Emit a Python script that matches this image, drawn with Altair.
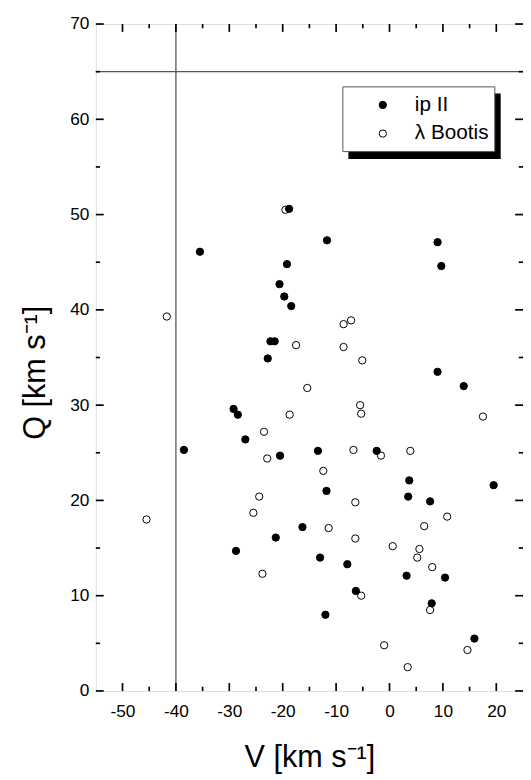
import altair as alt
import pandas as pd

groups = ["ip II", "λ Bootis"]

ip_v = [-18.8, -35.5, -11.7, 9.0, -19.2, -20.6, -19.7, -18.4, -22.3, -21.5, -22.8, -29.2,
        -28.4, -27.0, -38.5, -20.5, 9.7, 9.0, 13.9, -13.4, -2.4, 3.7, 19.5, -11.8, 3.5,
        7.6, -16.3, -13.0, -7.9, 3.2, 10.4, -6.3, 7.9, -12.0, 15.9, -21.3, -28.75]
ip_q = [50.6, 46.1, 47.3, 47.1, 44.8, 42.7, 41.4, 40.4, 36.7, 36.7, 34.9, 29.6,
        29.0, 26.4, 25.3, 24.7, 44.6, 33.5, 32.0, 25.2, 25.2, 22.1, 21.6, 21.0, 20.4,
        19.9, 17.2, 14.0, 13.3, 12.1, 11.9, 10.5, 9.2, 8.0, 5.5, 16.1, 14.7]

lb_v = [-19.5, -41.7, -17.5, -15.4, -18.7, -23.5, -22.9, -8.6, -7.2, -8.6, -5.1, -5.5,
        -5.3, 17.5, -6.75, -1.6, 3.9, -12.4, -6.4, 10.8, -11.4, 6.5, -6.4, 0.6, 5.6, 5.2,
        8.0, -5.3, 7.6, -1.0, 14.6, 3.4, -24.4, -25.5, -45.5, -23.8]
lb_q = [50.5, 39.3, 36.3, 31.8, 29.0, 27.2, 24.4, 38.5, 38.9, 36.1, 34.7, 30.0,
        29.1, 28.8, 25.3, 24.7, 25.2, 23.1, 19.8, 18.3, 17.1, 17.3, 16.0, 15.2, 14.9, 14.0,
        13.0, 10.0, 8.5, 4.8, 4.3, 2.5, 20.4, 18.7, 18.0, 12.3]

x_major = [-50, -40, -30, -20, -10, 0, 10, 20]
x_minor = [-45, -35, -25, -15, -5, 5, 15]
y_major = [0, 10, 20, 30, 40, 50, 60, 70]
y_minor = [5, 15, 25, 35, 45, 55, 65]
ref_v = [-40]
ref_q = [65]

W, H = 433, 676
FONT = "Liberation Sans"

df = pd.DataFrame({
    "V": ip_v + lb_v,
    "Q": ip_q + lb_q,
    "group": [groups[0]] * len(ip_v) + [groups[1]] * len(lb_v),
})

xs = alt.Scale(domain=[-55, 25], nice=False, zero=False)
ys = alt.Scale(domain=[0, 70], nice=False, zero=False)

x_axis = alt.Axis(
    values=x_major, ticks=False, domain=False, grid=False,
    labelFontSize=17.5, labelPadding=12, labelColor="black", labelFont=FONT,
    labelExpr="'' + datum.value",
    title="V [km s⁻¹]", titleX=W / 2, titleY=77, titleBaseline="alphabetic",
    titleAlign="center", titleFontSize=31, titleFontWeight="normal", titleFont=FONT,
    titleColor="black")
y_axis = alt.Axis(
    values=y_major, ticks=False, domain=False, grid=False,
    labelFontSize=17.5, labelPadding=7, labelColor="black", labelFont=FONT,
    labelExpr="'' + datum.value",
    title="Q [km s⁻¹]", titleX=-52, titleY=353, titleAngle=270,
    titleBaseline="alphabetic", titleAlign="center", titleFontSize=31,
    titleFontWeight="normal", titleFont=FONT, titleColor="black")


def X(field):
    return alt.X(field, scale=xs, axis=x_axis)


def Y(field):
    return alt.Y(field, scale=ys, axis=y_axis)


points = alt.Chart(df).mark_point(
    shape="circle", size=55, stroke="black", strokeWidth=1, opacity=1, fillOpacity=1
).encode(
    x=X("V:Q"),
    y=Y("Q:Q"),
    fill=alt.Fill("group:N", scale=alt.Scale(domain=groups, range=["black", "transparent"]),
                  legend=alt.Legend(
                      title=None, orient="none", legendX=250.4, legendY=60.5,
                      padding=11, symbolType="circle", symbolSize=55,
                      symbolStrokeColor="black", symbolStrokeWidth=1, symbolOffset=19,
                      labelOffset=22, labelFontSize=21, labelFont=FONT,
                      labelColor="black", rowPadding=7)),
)

# legend frame and its drop shadow (decoration, pixel placed), each with its own data row
shadow = alt.Chart(pd.DataFrame({"shadow": ["legend shadow"]})).mark_rect(
    fill="black", opacity=1
).encode(
    x=alt.value(256), x2=alt.value(410.4), y=alt.value(70.3), y2=alt.value(136.7)
)
box = alt.Chart(pd.DataFrame({"frame": ["legend frame"]})).mark_rect(
    fill="white", stroke="#555", strokeWidth=1, opacity=1
).encode(
    x=alt.value(250.4), x2=alt.value(404.4), y=alt.value(63.7), y2=alt.value(129.3)
)

vline = alt.Chart(pd.DataFrame({"V": ref_v})).mark_rule(color="#555", strokeWidth=1.3).encode(
    x=X("V:Q"))
hline = alt.Chart(pd.DataFrame({"Q": ref_q})).mark_rule(color="#555", strokeWidth=1.3).encode(
    y=Y("Q:Q"))


def xticks(vals, length):
    d = pd.DataFrame({"V": vals})
    base = alt.Chart(d).mark_rule(color="black", strokeWidth=1.7)
    bottom = base.encode(x=X("V:Q"), y=alt.value(H), y2=alt.value(H - length))
    top = base.encode(x=X("V:Q"), y=alt.value(0), y2=alt.value(length))
    return [bottom, top]


def yticks(vals, length):
    d = pd.DataFrame({"Q": vals})
    base = alt.Chart(d).mark_rule(color="black", strokeWidth=1.7)
    left = base.encode(y=Y("Q:Q"), x=alt.value(0), x2=alt.value(length))
    right = base.encode(y=Y("Q:Q"), x=alt.value(W), x2=alt.value(W - length))
    return [left, right]


layers = [vline, hline] + xticks(x_major, 8) + xticks(x_minor, 4.3) + \
    yticks(y_major, 8) + yticks(y_minor, 4.3) + [shadow, box, points]

chart = alt.layer(*layers).properties(
    width=W, height=H,
    autosize=alt.AutoSizeParams(type="none"),
    padding={"left": 89, "top": 11, "right": 0, "bottom": 85},
).configure_view(
    stroke="black", strokeWidth=1.7
).configure(font=FONT)

chart.save("out.html", embed_options={"renderer": "svg", "actions": False})
